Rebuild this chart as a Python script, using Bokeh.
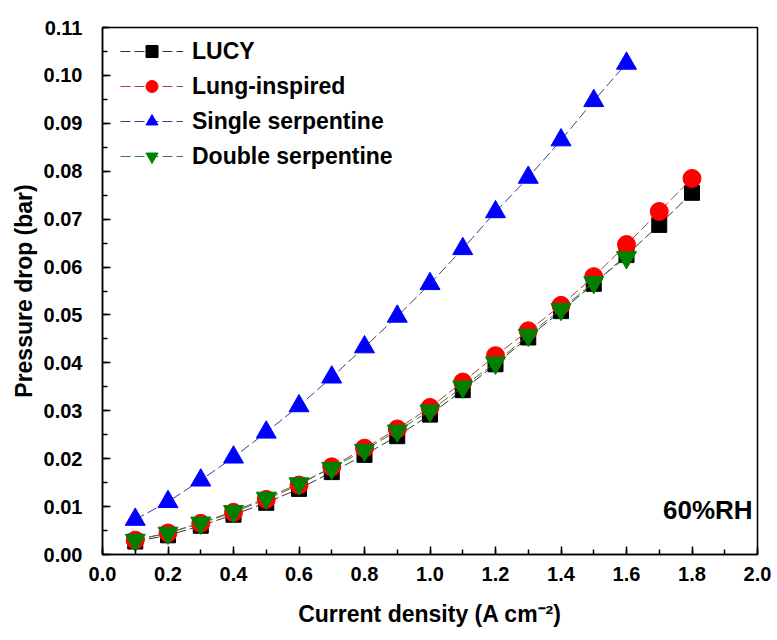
from bokeh.plotting import figure
from bokeh.models import Label, Legend, LegendItem, FixedTicker, Range1d, CustomJSTickFormatter
from bokeh.embed import file_html
from bokeh.resources import INLINE

x_lucy = [0.1, 0.2, 0.3, 0.4, 0.5, 0.6, 0.7, 0.8, 0.9, 1.0, 1.1, 1.2, 1.3, 1.4, 1.5, 1.6, 1.7, 1.8]
lucy = [0.0027, 0.0040, 0.0060, 0.0083, 0.0108, 0.0137, 0.0172, 0.0208, 0.0247, 0.0292,
        0.0343, 0.0397, 0.0453, 0.0508, 0.0565, 0.0625, 0.0688, 0.0755]
lung = [0.0030, 0.0045, 0.0065, 0.0088, 0.0115, 0.0145, 0.0183, 0.0222, 0.0262, 0.0307,
        0.0360, 0.0415, 0.0467, 0.0520, 0.0580, 0.0647, 0.0716, 0.0785]
x_serp = [0.1, 0.2, 0.3, 0.4, 0.5, 0.6, 0.7, 0.8, 0.9, 1.0, 1.1, 1.2, 1.3, 1.4, 1.5, 1.6]
single = [0.0073, 0.0110, 0.0155, 0.0203, 0.0255, 0.0310, 0.0370, 0.0433, 0.0497, 0.0565,
          0.0638, 0.0715, 0.0787, 0.0865, 0.0947, 0.1025]
double = [0.0030, 0.0045, 0.0066, 0.0090, 0.0118, 0.0148, 0.0180, 0.0218, 0.0258, 0.0300,
          0.0350, 0.0400, 0.0458, 0.0512, 0.0568, 0.0620]

x_ticks = [0.0, 0.2, 0.4, 0.6, 0.8, 1.0, 1.2, 1.4, 1.6, 1.8, 2.0]
y_ticks = [0.00, 0.01, 0.02, 0.03, 0.04, 0.05, 0.06, 0.07, 0.08, 0.09, 0.10, 0.11]

FONT = "Liberation Sans"

p = figure(width=777, height=640, output_backend="svg", toolbar_location=None,
           x_range=Range1d(0, 2.0), y_range=Range1d(0, 0.11),
           min_border_left=102, min_border_right=20, min_border_top=27, min_border_bottom=86)
p.grid.visible = False
p.outline_line_color = "black"
p.outline_line_width = 1.5

for ax in (p.xaxis[0], p.yaxis[0]):
    ax.major_label_text_font = FONT
    ax.major_label_text_font_style = "bold"
    ax.major_label_text_font_size = "20px"
    ax.major_label_text_color = "black"
    ax.axis_label_text_font = FONT
    ax.axis_label_text_font_style = "bold"
    ax.axis_label_text_font_size = "23px"
    ax.axis_label_text_color = "black"
    ax.major_tick_in = 8
    ax.major_tick_out = 0
    ax.minor_tick_in = 5
    ax.minor_tick_out = 0
    ax.axis_line_width = 1.5
    ax.major_tick_line_width = 1.5
    ax.minor_tick_line_width = 1.5

p.xaxis.ticker = FixedTicker(ticks=x_ticks, minor_ticks=[i * 0.1 for i in range(21)])
p.yaxis.ticker = FixedTicker(ticks=y_ticks, minor_ticks=[i * 0.005 for i in range(23)])
p.xaxis.formatter = CustomJSTickFormatter(code="return tick.toFixed(1);")
p.yaxis.formatter = CustomJSTickFormatter(code="return tick.toFixed(2);")
p.xaxis.axis_label = "Current density (A cm\u207b\u00b2)"
p.yaxis.axis_label = "Pressure drop (bar)"
p.xaxis.major_label_standoff = 12
p.yaxis.major_label_standoff = 20
p.xaxis.axis_label_standoff = 17
p.yaxis.axis_label_standoff = 4

dash = "10 4"
l1 = p.line(x_lucy, lucy, line_color="#333333", line_width=1, line_dash=dash)
m1 = p.scatter(x_lucy, lucy, marker="square", size=15, fill_color="black", line_color="black")
l2 = p.line(x_lucy, lung, line_color="#a04040", line_width=1, line_dash=dash)
m2 = p.scatter(x_lucy, lung, marker="circle", size=18, fill_color="red", line_color="red")
l3 = p.line(x_serp, single, line_color="#3a3a90", line_width=1, line_dash=dash)
m3 = p.scatter(x_serp, single, marker="triangle", size=20, fill_color="blue", line_color="blue")
l4 = p.line(x_serp, double, line_color="#3a7a3a", line_width=1, line_dash=dash)
m4 = p.scatter(x_serp, double, marker="inverted_triangle", size=20, fill_color="green", line_color="green")

legend = Legend(items=[
    LegendItem(label="LUCY", renderers=[l1, m1]),
    LegendItem(label="Lung-inspired", renderers=[l2, m2]),
    LegendItem(label="Single serpentine", renderers=[l3, m3]),
    LegendItem(label="Double serpentine", renderers=[l4, m4]),
], location=(18, 383))
legend.border_line_color = None
legend.background_fill_alpha = 0
legend.label_text_font = FONT
legend.label_text_font_style = "bold"
legend.label_text_font_size = "23px"
legend.label_text_color = "black"
legend.glyph_width = 63
legend.glyph_height = 30
legend.spacing = 5
legend.label_standoff = 9
legend.margin = 0
legend.padding = 8
p.add_layout(legend)

p.add_layout(Label(x=1.985, y=0.0062, text="60%RH", text_align="right", text_baseline="bottom",
                   text_font=FONT, text_font_style="bold", text_font_size="26px", text_color="black"))

open("out.html", "w").write(file_html(p, INLINE))
